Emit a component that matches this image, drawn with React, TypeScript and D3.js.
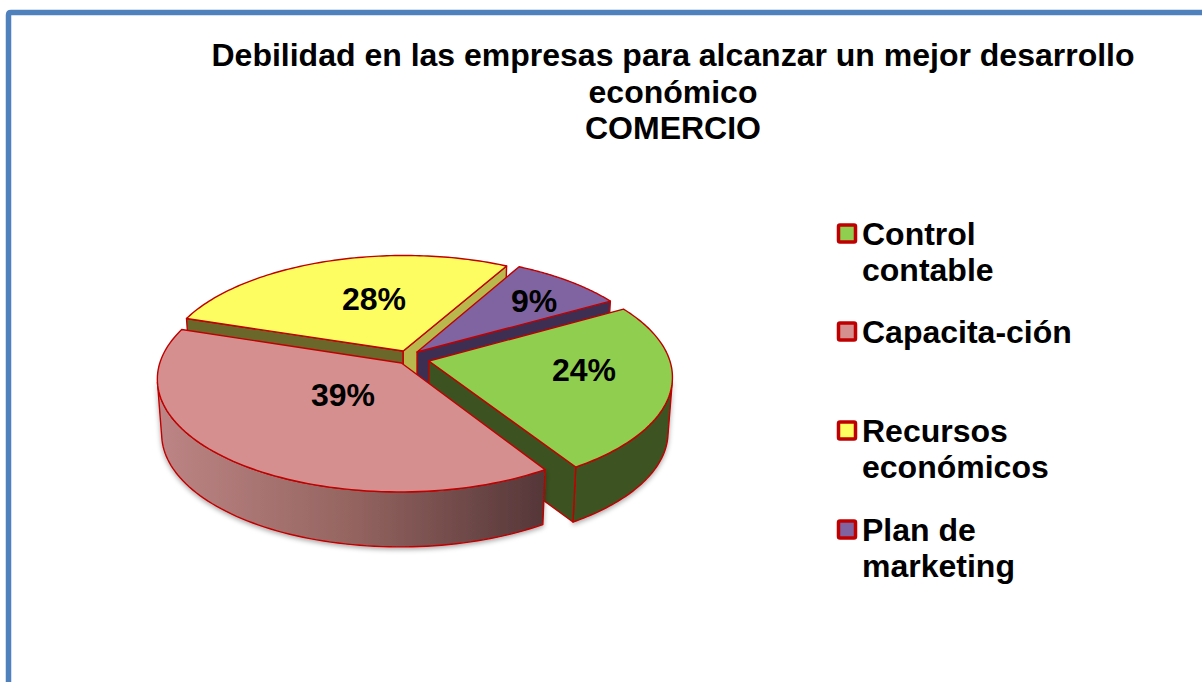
import React from "react";
import * as d3 from "d3";

const categories = ["Control contable", "Capacita-ción", "Recursos económicos", "Plan de marketing"];
const values = [24.4, 39, 27.9, 8.7];
const valueLabels = ["24%", "39%", "28%", "9%"];
const legendLines = [["Control", "contable"], ["Capacita-ción"], ["Recursos", "económicos"], ["Plan de", "marketing"]];
const legendY = [245, 343, 442, 541];
const labelPos = [[584, 369], [343, 394], [374, 298], [534, 300]];
const topColors = ["#8fce4f", "#d68f8f", "#fdfd62", "#8064a2"];
const cutColors = ["#3c5220", "#553638", "#b8b84c", "#3e2f52"];
const leftCutColors = ["#3c5220", "#553638", "#6b662a", "#3e2f52"];
const wallColors = ["#3c5220", "url(#pinkWall)", "#6b662a", "#3e2f52"];
const explodeU = [0.066, -0.048, -0.041, 0.017];
const explodeV = [-0.032, -0.05, 0.059, 0.05];
const titleLines = ["Debilidad en las empresas para alcanzar un mejor desarrollo", "económico", "COMERCIO"];

const W = 1202, H = 682;
const FONT = "'Liberation Sans', Arial, sans-serif";
const cx = 413, cy = 357.5, R = 240, RT = 110, K = 0.134, DEPTH = 55, BOTTOM_SCALE = 0.983;
const START = (60 * Math.PI) / 180;

const project = (u: number, v: number, low = false): [number, number] => {
  const s = 1 / (1 + K * v);
  const x = R * u * s * (low ? BOTTOM_SCALE : 1);
  const y = -RT * v * s + (low ? DEPTH : 0);
  return [cx + x, cy + y];
};

const pieGen = d3.pie<number>().sort(null).startAngle(START).endAngle(START + 2 * Math.PI);
const arcs = pieGen(values);
const line = d3.line();

function slicePaths(a: d3.PieArcDatum<number>, i: number) {
  const ou = explodeU[i], ov = explodeV[i];
  const N = 90;
  const angles = d3.range(0, N + 1).map((k) => a.startAngle + ((a.endAngle - a.startAngle) * k) / N);
  const rim = angles.map((t) => [ou + Math.sin(t), ov + Math.cos(t)]);
  const P = (p: number[], low = false) => project(p[0], p[1], low);
  const tip = [ou, ov];
  // keep only the run of rim points whose wall quad faces the viewer
  const facing = rim.map((p, k) => {
    if (k === N) return false;
    const q = [P(p), P(rim[k + 1]), P(rim[k + 1], true), P(p, true)] as [number, number][];
    return d3.polygonArea(q) > 0;
  });
  const first = facing.indexOf(true);
  const last = facing.lastIndexOf(true);
  const vis = first < 0 ? [] : rim.slice(first, last + 2);
  const wall = vis.length
    ? line([...vis.map((p) => P(p)), ...vis.slice().reverse().map((p) => P(p, true))] as [number, number][])! + "Z"
    : null;
  return {
    wall,
    top: line([P(tip), ...rim.map((p) => P(p))] as [number, number][])! + "Z",
    startCut: Math.cos(a.startAngle - Math.PI / 2) < 0 ? line([P(tip), P(rim[0]), P(rim[0], true), P(tip, true)] as [number, number][])! + "Z" : null,
    endCut: Math.cos(a.endAngle + Math.PI / 2) < 0 ? line([P(tip), P(rim[N]), P(rim[N], true), P(tip, true)] as [number, number][])! + "Z" : null,
  };
}

const paintOrder = [2, 3, 0, 1];
const stroke = "#c00000";

export default function App() {
  return (
    <svg width={W} height={H} viewBox={`0 0 ${W} ${H}`} style={{ position: "fixed", left: 0, top: 0, background: "#fff" }}>
      <defs>
        <linearGradient id="pinkWall" gradientUnits="userSpaceOnUse" x1={160} x2={545} y1={0} y2={0}>
          <stop offset="0" stopColor="#bd8585" />
          <stop offset="0.5" stopColor="#946460" />
          <stop offset="1" stopColor="#553638" />
        </linearGradient>
        <filter id="shadow" x="-10%" y="-10%" width="120%" height="120%">
          <feDropShadow dx={0} dy={2} stdDeviation={2.5} floodColor="#000" floodOpacity={0.35} />
        </filter>
      </defs>
      <path d={`M8.5 ${H} V15 Q8.5 12.5 11 12.5 H${W}`} fill="none" stroke="#4f81bd" strokeWidth={5.5} />
      {titleLines.map((t, i) => (
        <text key={t} x={673} y={66 + i * 36.5} textAnchor="middle" fontFamily={FONT} fontWeight="bold" fontSize={32} fill="#000">{t}</text>
      ))}
      {paintOrder.map((i) => {
        const p = slicePaths(arcs[i], i);
        return (
          <g key={categories[i]} stroke={stroke} strokeWidth={1.4} strokeLinejoin="round">
            {p.wall && <path d={p.wall} fill={wallColors[i]} filter="url(#shadow)" />}
            {p.startCut && <path d={p.startCut} fill={leftCutColors[i]} />}
            {p.endCut && <path d={p.endCut} fill={cutColors[i]} />}
            <path d={p.top} fill={topColors[i]} />
          </g>
        );
      })}
      {values.map((_, i) => (
        <text key={i} x={labelPos[i][0]} y={labelPos[i][1]} dy="0.36em" textAnchor="middle" fontFamily={FONT} fontWeight="bold" fontSize={32} fill="#000">{valueLabels[i]}</text>
      ))}
      {categories.map((c, i) => (
        <g key={c}>
          <rect x={838.5} y={legendY[i] - 20} width={17} height={17} rx={1.5} fill={topColors[i]} stroke={stroke} strokeWidth={3.5} />
          {legendLines[i].map((l, j) => (
            <text key={l} x={862} y={legendY[i] + j * 36} fontFamily={FONT} fontWeight="bold" fontSize={32} fill="#000">{l}</text>
          ))}
        </g>
      ))}
    </svg>
  );
}
